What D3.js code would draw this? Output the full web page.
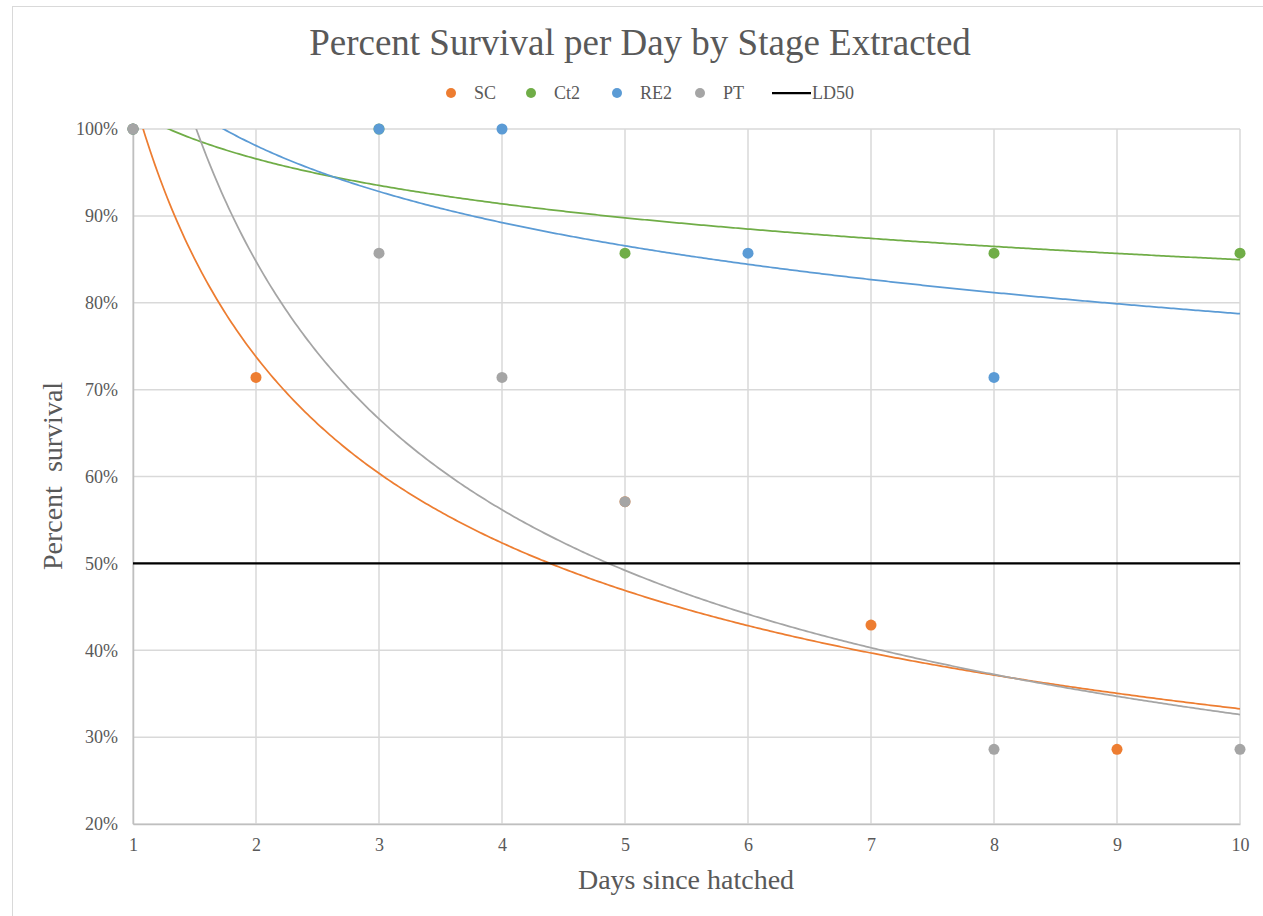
<!DOCTYPE html>
<html lang="en">
  <head>
    <meta charset="UTF-8">
    <script src="https://cdn.jsdelivr.net/npm/d3@7"></script>
    <title>Percent Survival per Day by Stage Extracted</title>
    <style>
    body { margin: 0; background: #fff; }
    text { font-family: "Liberation Serif", "Times New Roman", serif; fill: #595959; }
    </style>
  </head>
  <body>
    <div id="chart"></div>
    <script>

// Survival fraction per day, one array pair per stage
const scDays  = [1, 2, 5, 7, 9];
const scSurv  = [1, 0.714, 0.571, 0.429, 0.286];
const ct2Days = [1, 3, 5, 8, 10];
const ct2Surv = [1, 1, 0.857, 0.857, 0.857];
const re2Days = [1, 3, 4, 6, 8];
const re2Surv = [1, 1, 1, 0.857, 0.714];
const ptDays  = [1, 3, 4, 5, 8, 10];
const ptSurv  = [1, 0.857, 0.714, 0.571, 0.286, 0.286];
const ld50Days = [1, 10];
const ld50Surv = [0.5, 0.5];

const xTicks = [1, 2, 3, 4, 5, 6, 7, 8, 9, 10];
const yTicks = [0.2, 0.3, 0.4, 0.5, 0.6, 0.7, 0.8, 0.9, 1.0];

const series = [
  { name: "SC",  days: scDays,  surv: scSurv,  colour: "#ED7D31" },
  { name: "Ct2", days: ct2Days, surv: ct2Surv, colour: "#70AD47" },
  { name: "RE2", days: re2Days, surv: re2Surv, colour: "#5B9BD5" },
  { name: "PT",  days: ptDays,  surv: ptSurv,  colour: "#A5A5A5" }
];

const width = 1263, height = 916;
const margin = { top: 129, right: 23, bottom: 92, left: 133 };

const svg = d3.select("#chart").append("svg")
  .attr("width", width)
  .attr("height", height)
  .attr("viewBox", [0, 0, width, height]);

// chart area border
svg.append("rect")
  .attr("x", 12.5).attr("y", 6.5)
  .attr("width", 1400).attr("height", 1000)
  .attr("fill", "#fff")
  .attr("stroke", "#d9d9d9");

const x = d3.scaleLinear().domain([1, 10]).range([margin.left, width - margin.right]);
const y = d3.scaleLinear().domain([0.2, 1.0]).range([height - margin.bottom, margin.top]);

// gridlines
svg.append("g")
  .attr("stroke", "#d9d9d9")
  .attr("stroke-width", 1.5)
  .call(g => g.selectAll(".h").data(yTicks).join("line")
    .attr("x1", x(1)).attr("x2", x(10))
    .attr("y1", d => y(d)).attr("y2", d => y(d)))
  .call(g => g.selectAll(".v").data(xTicks).join("line")
    .attr("y1", y(0.2)).attr("y2", y(1))
    .attr("x1", d => x(d)).attr("x2", d => x(d)));

// axes
const xAxis = svg.append("g")
  .attr("transform", `translate(0,${y(0.2)})`)
  .call(d3.axisBottom(x).tickValues(xTicks).tickSize(0).tickPadding(14).tickFormat(d3.format("d")));
const yAxis = svg.append("g")
  .attr("transform", `translate(${x(1)},0)`)
  .call(d3.axisLeft(y).tickValues(yTicks).tickSize(0).tickPadding(15).tickFormat(d3.format(".0%")));
[xAxis, yAxis].forEach(a => {
  a.attr("font-family", null);
  a.select(".domain").attr("stroke", "#bfbfbf").attr("stroke-width", 1.5);
  a.selectAll("text").attr("font-size", 18).attr("fill", "#595959");
});

// power trendline (least squares on ln x, ln y), like the spreadsheet does
function powerFit(xs, ys) {
  const lx = xs.map(Math.log), ly = ys.map(Math.log);
  const mx = d3.mean(lx), my = d3.mean(ly);
  const b = d3.sum(lx, (v, i) => (v - mx) * (ly[i] - my)) / d3.sum(lx, v => (v - mx) ** 2);
  const a = Math.exp(my - b * mx);
  return t => a * Math.pow(t, b);
}

svg.append("clipPath").attr("id", "plot")
  .append("rect")
  .attr("x", x(1)).attr("y", y(1))
  .attr("width", x(10) - x(1)).attr("height", y(0.2) - y(1));

const line = d3.line().x(d => x(d[0])).y(d => y(d[1]));
const plot = svg.append("g").attr("clip-path", "url(#plot)");

series.forEach(s => {
  const f = powerFit(s.days, s.surv);
  const pts = d3.range(1, 10.001, 0.02).map(t => [t, f(t)]);
  plot.append("path")
    .attr("d", line(pts))
    .attr("fill", "none")
    .attr("stroke", s.colour)
    .attr("stroke-width", 1.75);
});

// LD50 line
svg.append("path")
  .attr("d", line(ld50Days.map((d, i) => [d, ld50Surv[i]])))
  .attr("stroke", "#000")
  .attr("stroke-width", 2.25);

// markers
series.forEach(s => {
  svg.append("g").selectAll("circle")
    .data(s.days.map((d, i) => [d, s.surv[i]]))
    .join("circle")
    .attr("cx", d => x(d[0]))
    .attr("cy", d => y(d[1]))
    .attr("r", 5.5)
    .attr("fill", s.colour);
});

// title
svg.append("text")
  .attr("x", 640).attr("y", 55)
  .attr("text-anchor", "middle")
  .attr("font-size", 37)
  .text("Percent Survival per Day by Stage Extracted");

// legend
const legendX = [451, 531, 617, 700];
const legY = 93;
series.forEach((s, i) => {
  svg.append("circle").attr("cx", legendX[i]).attr("cy", legY).attr("r", 5).attr("fill", s.colour);
  svg.append("text").attr("x", legendX[i] + 23).attr("y", legY).attr("dy", "0.35em")
    .attr("font-size", 18).text(s.name);
});
svg.append("line").attr("x1", 772).attr("x2", 811).attr("y1", legY).attr("y2", legY)
  .attr("stroke", "#000").attr("stroke-width", 2.25);
svg.append("text").attr("x", 812).attr("y", legY).attr("dy", "0.35em")
  .attr("font-size", 18).text("LD50");

// axis titles
svg.append("text")
  .attr("transform", `translate(62,476) rotate(-90)`)
  .attr("text-anchor", "middle")
  .attr("font-size", 28)
  .style("white-space", "pre")
  .text("Percent  survival");
svg.append("text")
  .attr("x", 686).attr("y", 889)
  .attr("text-anchor", "middle")
  .attr("font-size", 28)
  .text("Days since hatched");

    </script>
  </body>
</html>
